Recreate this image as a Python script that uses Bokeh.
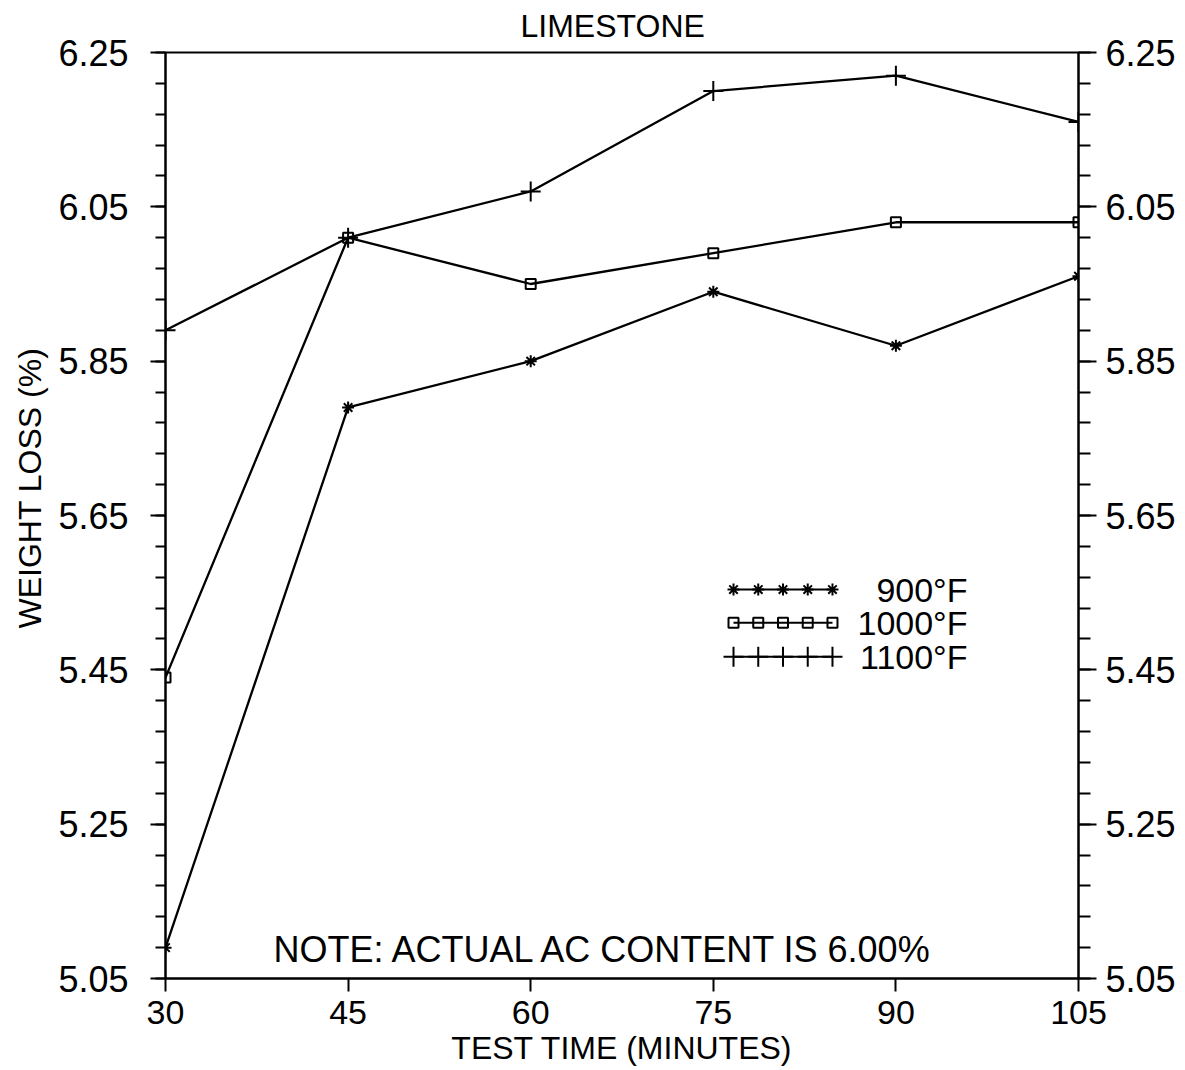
import numpy as np
from bokeh.plotting import figure
from bokeh.models import Range1d, LinearAxis, FixedTicker, PrintfTickFormatter, Label, Title
from bokeh.core.properties import value
from bokeh.embed import file_html
from bokeh.resources import INLINE

# ---- data ----
test_time = [30, 45, 60, 75, 90, 105]
loss_900 = [5.09, 5.79, 5.85, 5.94, 5.87, 5.96]
loss_1000 = [5.44, 6.01, 5.95, 5.99, 6.03, 6.03]
loss_1100 = [5.89, 6.01, 6.07, 6.20, 6.22, 6.16]
series_labels = ["900°F", "1000°F", "1100°F"]

x_ticks = [30, 45, 60, 75, 90, 105]
y_ticks = [5.05, 5.25, 5.45, 5.65, 5.85, 6.05, 6.25]
y_minor = list(np.round(np.arange(5.05, 6.2501, 0.04), 2))

FONT = "Liberation Sans"

p = figure(width=1178, height=1068,
           x_range=Range1d(30, 105), y_range=Range1d(5.05, 6.25),
           output_backend="svg", toolbar_location=None,
           min_border_left=165, min_border_right=100,
           min_border_top=52, min_border_bottom=60)

p.title.text = "LIMESTONE"
p.title.text_font = FONT
p.title.text_font_size = "32px"
p.title.text_font_style = "normal"
p.title.text_color = "black"
p.title.align = "left"
p.title.vertical_align = "top"
p.title.offset = 355
p.title.standoff = 14
p.xgrid.visible = False
p.ygrid.visible = False
p.outline_line_color = "black"
p.outline_line_width = 2
p.outline_line_alpha = 1
p.background_fill_color = "white"
p.border_fill_color = "white"

# bottom axis
xa = p.xaxis[0]
xa.ticker = FixedTicker(ticks=x_ticks, minor_ticks=[])
xa.axis_label = "TEST TIME (MINUTES)"
xa.axis_label_text_font = FONT
xa.axis_label_text_font_size = "32px"
xa.axis_label_text_font_style = "normal"
xa.axis_label_text_color = "black"
xa.axis_label_standoff = 3
xa.major_label_text_font = FONT
xa.major_label_text_font_size = "34px"
xa.major_label_standoff = 9
xa.major_tick_out = 13
xa.major_tick_in = 0
xa.minor_tick_line_color = None
xa.axis_line_width = 2
xa.major_tick_line_width = 2
xa.axis_line_color = "black"
xa.major_tick_line_color = "black"
xa.major_label_text_color = "black"

# left axis
ya = p.yaxis[0]
ya.ticker = FixedTicker(ticks=y_ticks, minor_ticks=y_minor)
ya.formatter = PrintfTickFormatter(format="%.2f")
ya.major_label_text_font = FONT
ya.major_label_text_font_size = "36px"
ya.major_label_standoff = 22
ya.major_tick_out = 15
ya.major_tick_in = 0
ya.minor_tick_out = 10
ya.minor_tick_in = 0
ya.axis_line_width = 2
ya.major_tick_line_width = 2
ya.minor_tick_line_width = 2
ya.axis_line_color = "black"
ya.major_tick_line_color = "black"
ya.minor_tick_line_color = "black"
ya.major_label_text_color = "black"

# y label placed outside the left axis
p.add_layout(Title(text="WEIGHT LOSS (%)", align="left", offset=350,
                   text_font=FONT, text_font_size="32px",
                   text_font_style="normal", text_color="black",
                   standoff=16), "left")

# right axis
ra = LinearAxis(ticker=FixedTicker(ticks=y_ticks, minor_ticks=y_minor),
                formatter=PrintfTickFormatter(format="%.2f"))
ra.major_label_text_font = FONT
ra.major_label_text_font_size = "36px"
ra.major_label_standoff = 9
ra.major_tick_out = 18
ra.major_tick_in = 0
ra.minor_tick_out = 12
ra.minor_tick_in = 0
ra.axis_line_width = 2
ra.major_tick_line_width = 2
ra.minor_tick_line_width = 2
ra.axis_line_color = "black"
ra.major_tick_line_color = "black"
ra.minor_tick_line_color = "black"
ra.major_label_text_color = "black"
p.add_layout(ra, "right")

# ---- series ----
series = [
    (loss_900, "asterisk", 12),
    (loss_1000, "square", 10),
    (loss_1100, "cross", 20),
]
for vals, marker, size in series:
    p.line(test_time, vals, line_color="black", line_width=2.3)
    p.scatter(test_time, vals, marker=marker, size=size,
              line_color="black", fill_color=None, line_width=2)

# ---- legend (line with five markers, label right aligned) ----
leg_x0, leg_x1 = 76.66, 84.79
leg_rows = [5.554, 5.511, 5.467]
leg_text_x = 95.88
leg_xs = list(np.linspace(leg_x0, leg_x1, 5))
for (vals, marker, size), ly, lab in zip(series, leg_rows, series_labels):
    p.line([leg_x0, leg_x1], [ly, ly], line_color="black", line_width=2)
    p.scatter(leg_xs, [ly] * 5, marker=marker, size=size,
              line_color="black", fill_color=None, line_width=2)
    p.text(x=[leg_text_x], y=[ly], text=[lab], text_align="right",
           text_baseline="middle", text_font=value(FONT),
           text_font_size="34px", text_color="black")

# ---- note ----
p.add_layout(Label(x=38.87, y=5.088, text="NOTE: ACTUAL AC CONTENT IS 6.00%",
                   text_font=FONT, text_font_size="36px",
                   text_baseline="alphabetic", text_color="black"))

open("out.html", "w").write(file_html(p, INLINE))
